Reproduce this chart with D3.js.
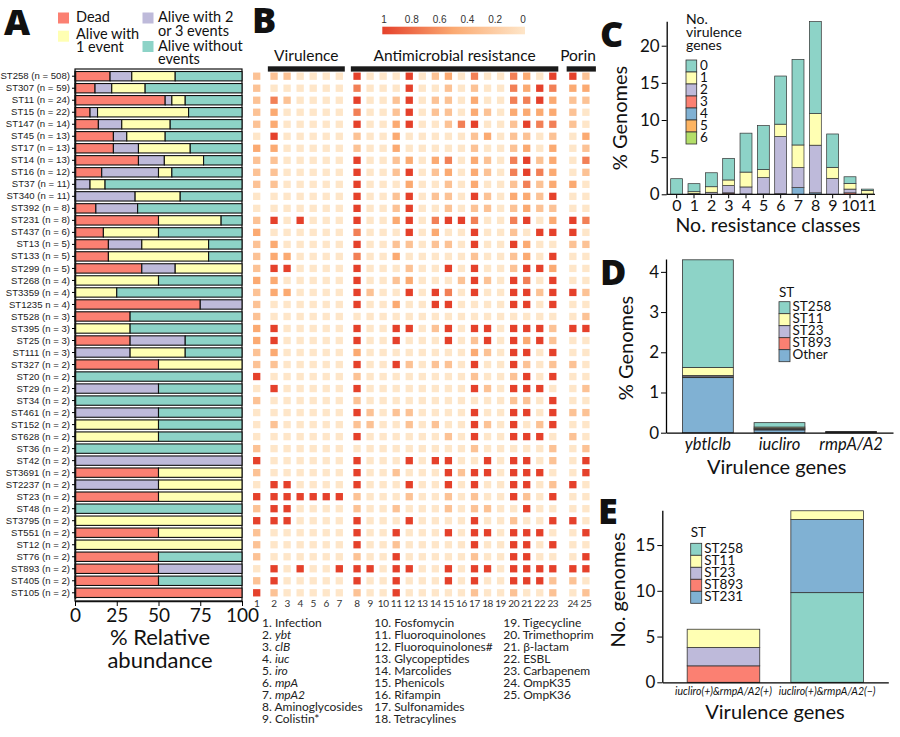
<!DOCTYPE html>
<html><head><meta charset="utf-8">
<script src="https://cdn.jsdelivr.net/npm/d3@7"></script>
<style>body{margin:0;background:#fff}svg{display:block}</style>
</head><body>
<svg id="c" width="900" height="737"></svg>
<script>
// ---------------- DATA ----------------
const stLabels = ["ST258 (n = 508)","ST307 (n = 59)","ST11 (n = 24)","ST15 (n = 22)","ST147 (n = 14)","ST45 (n = 13)","ST17 (n = 13)","ST14 (n = 13)","ST16 (n = 12)","ST37 (n = 11)","ST340 (n = 11)","ST392 (n = 8)","ST231 (n = 8)","ST437 (n = 6)","ST13 (n = 5)","ST133 (n = 5)","ST299 (n = 5)","ST268 (n = 4)","ST3359 (n = 4)","ST1235 n = 4)","ST528 (n = 3)","ST395 (n = 3)","ST25 (n = 3)","ST111 (n = 3)","ST327 (n = 2)","ST20 (n = 2)","ST29 (n = 2)","ST34 (n = 2)","ST461 (n = 2)","ST152 (n = 2)","ST628 (n = 2)","ST36 (n = 2)","ST42 (n = 2)","ST3691 (n = 2)","ST2237 (n = 2)","ST23 (n = 2)","ST48 (n = 2)","ST3795 (n = 2)","ST551 (n = 2)","ST12 (n = 2)","ST76 (n = 2)","ST893 (n = 2)","ST405 (n = 2)","ST105 (n = 2)"];
// % relative abundance per outcome
const dead  = [21,12,54,9,14,23,23,38,16,0,0,12.5,50,17,20,20,40,0,0,75,33,0,33,0,50,0,0,0,0,0,0,0,0,50,0,50,0,0,50,0,50,50,50,100];
const multi = [13,10,4,4.5,14,8,15,15.5,34,9,36,25,0,0,20,0,20,0,0,25,0,0,33,33,0,0,50,0,50,0,0,0,100,0,50,0,0,0,0,0,0,50,0,0];
const one   = [26,20,8,54.5,29,23,31,23.5,8,9,27,0,37.5,33,40,60,40,50,25,0,0,33,0,33,50,0,0,0,0,50,50,0,0,50,50,50,0,100,50,100,0,0,0,0];
const none  = [40,58,34,32,43,46,31,23,42,82,37,62.5,12.5,50,20,20,0,50,75,0,67,67,34,34,0,100,50,100,50,50,50,100,0,0,0,0,100,0,0,0,50,0,50,0];

// Panel B heat map (fraction of genomes), one row per ST, 25 columns
const heatColumns = ["1","2","3","4","5","6","7","8","9","10","11","12","13","14","15","16","17","18","19","20","21","22","23","24","25"];
const colGroup = [0,1,1,1,1,1,1,2,2,2,2,2,2,2,2,2,2,2,2,2,2,2,2,3,3];
const heat = [
[.3,.3,.3,0,0,0,0, 1,0,0,0,1,0,.3,.5,0,.7,0,0,.7,.5,0,1, 1,.3],
[.3,0,0,0,0,0,0, .7,0,0,0,1,0,0,.3,0,.3,0,0,.7,.5,1,.7, .5,.5],
[.3,.7,.3,0,0,0,0, 1,0,0,.3,1,0,.3,.3,0,.5,0,0,.7,.7,1,.5, .3,.3],
[.3,.5,0,0,0,0,0, .7,0,0,.3,1,0,.3,.3,0,.5,.3,0,.5,.5,.5,.5, .3,0],
[.3,.5,0,0,0,0,0, 1,0,0,.5,1,0,0,.3,.7,1,0,0,.3,1,.7,.7, .3,0],
[0,1,0,0,0,0,0, .3,0,0,.5,0,0,0,0,0,.3,.5,0,.3,.3,0,.3, 0,.5],
[.5,.5,0,0,0,0,0, .3,0,0,.5,0,0,0,0,0,.3,0,0,.3,.5,0,.5, 0,.3],
[.3,.3,0,0,0,0,0, 1,0,0,.3,.5,0,.5,.7,0,.5,.3,0,.7,1,.3,.5, 0,.7],
[.3,.3,0,0,0,0,0, 1,0,0,.3,1,0,.3,.5,0,.5,.3,0,.7,1,.7,.5, 0,.3],
[.3,.3,0,0,0,0,0, 1,0,0,0,.5,0,0,.3,0,.5,0,0,.3,.7,.3,.5, .5,0],
[0,0,0,0,0,0,0, 1,0,0,.3,1,0,.3,.3,0,1,.3,0,.5,.5,.3,1, 0,0],
[0,0,0,0,0,0,0, 1,0,0,.3,1,0,0,.3,0,.3,.3,0,.3,.5,.3,.3, 0,0],
[.3,1,0,1,0,0,0, 1,0,0,.5,1,0,.7,1,1,.7,0,0,.7,1,0,.5, 1,.7],
[.5,0,0,0,0,0,0, .7,0,0,0,1,0,.5,0,0,1,0,0,.3,0,1,1, 1,0],
[.3,.5,0,0,0,0,0, 1,0,0,.3,.3,0,.3,.3,0,1,0,0,1,.5,0,0, .3,.3],
[.3,.5,.5,0,0,0,0, .7,0,0,.5,0,0,0,0,0,.3,0,0,.3,.5,0,1, 0,0],
[.3,1,1,0,0,0,0, 1,0,0,0,.3,0,0,1,0,1,0,0,.3,1,1,.5, 0,0],
[.5,.5,0,0,0,0,0, 1,0,0,.3,.5,0,0,0,.3,1,.3,0,1,.7,0,1, 0,0],
[.3,.5,.5,0,0,0,0, 1,.3,0,0,1,0,1,.7,0,1,0,0,1,1,.3,1, 1,.3],
[.3,0,0,0,0,0,0, 1,0,0,.5,0,0,1,1,0,0,0,0,1,1,0,1, 0,0],
[.3,0,0,0,0,0,0, 0,0,0,0,0,0,0,0,0,0,0,0,0,0,0,0, 0,.3],
[.5,1,0,0,0,0,0, 1,0,0,1,1,0,.3,1,0,1,1,0,1,1,1,.3, 1,1],
[.5,1,0,0,0,0,0, 1,0,0,1,0,0,0,1,0,.3,1,0,1,.5,1,.3, 0,0],
[.3,.5,0,0,0,0,0, .5,0,0,0,0,0,0,0,0,.5,.3,0,1,1,0,1, 0,0],
[.3,.3,0,0,0,0,0, 1,0,0,1,.3,0,.3,.3,0,1,0,0,1,.3,0,.3, .3,0],
[1,0,0,0,0,0,0, .3,0,0,0,0,0,0,0,0,.3,0,0,.3,1,0,1, 0,0],
[0,1,0,0,0,0,0, 1,0,0,0,0,0,0,0,0,1,.3,0,1,1,1,0, 0,.3],
[.3,0,0,0,0,0,0, .3,0,0,0,0,0,0,0,0,0,0,0,.3,.3,0,1, 0,0],
[0,0,0,0,0,0,0, 1,.3,0,.3,.3,0,0,0,0,1,0,0,1,1,0,1, .3,.3],
[0,.3,0,0,0,0,0, .3,.3,0,0,.3,0,.3,0,0,1,.3,0,1,0,.3,1, 0,0],
[0,0,0,0,0,0,0, 1,0,0,0,0,0,0,.3,0,1,0,0,1,1,1,0, .3,0],
[.3,0,0,0,0,0,0, 0,0,0,0,0,0,0,0,0,.3,0,0,0,0,0,.3, 0,.3],
[1,0,0,0,0,0,0, 1,0,0,0,1,0,1,1,0,0,1,0,1,1,0,.3, 0,1],
[.3,0,0,0,0,0,0, 1,0,0,.3,0,0,0,1,.3,1,1,0,1,1,1,0, 0,1],
[0,1,1,0,0,0,0, 1,0,0,0,1,0,0,1,0,1,0,0,1,1,0,.3, 1,0],
[1,1,1,1,1,1,1, .3,0,0,0,.3,0,0,.3,0,.3,0,0,1,.3,0,1, 0,0],
[.3,1,1,0,0,0,0, .3,0,0,.3,0,0,0,.3,0,.3,.3,0,0,1,0,0, 0,0],
[1,1,1,0,0,0,0, 1,0,0,0,1,0,0,0,0,1,0,0,.3,0,0,1, 1,0],
[.3,0,0,0,0,0,0, 1,0,0,1,0,0,0,1,0,1,1,0,1,1,1,0, 0,1],
[.3,0,0,0,0,0,0, 1,0,0,.3,0,0,0,0,0,1,0,0,1,1,0,1, 0,0],
[.3,0,0,0,0,0,0, .3,0,0,1,0,0,0,0,0,.3,0,0,1,1,0,0, 0,1],
[0,1,0,1,0,0,1, 1,1,0,1,1,0,0,1,0,1,1,0,1,1,1,1, 1,1],
[.3,1,0,0,0,0,0, 1,0,0,1,0,0,0,1,0,1,0,0,1,1,1,.3, .3,0],
[1,.3,0,0,0,0,0, .3,0,0,1,0,0,0,0,0,.3,0,0,.3,0,0,.3, 0,.3]
];
const heatGroups = ["Virulence","Antimicrobial resistance","Porin"];
const legendTicks = [1,0.8,0.6,0.4,0.2,0];
const heatKey = ["Infection","ybt","clB","iuc","iro","mpA","mpA2","Aminoglycosides","Colistin*","Fosfomycin","Fluoroquinolones","Fluoroquinolones#","Glycopeptides","Marcolides","Phenicols","Rifampin","Sulfonamides","Tetracylines","Tigecycline","Trimethoprim","β-lactam","ESBL","Carbapenem","OmpK35","OmpK36"];
const heatKeyItalic = [false,true,true,true,true,true,true,false,false,false,false,false,false,false,false,false,false,false,false,false,false,false,false,false,false];

// Panel C: % genomes by number of resistance classes, stacked by no. virulence genes
const resClasses = ["0","1","2","3","4","5","6","7","8","9","10","11"];
const vir0 = [2.1,1.08,1.88,2.91,5.24,5.92,6.48,11.52,12.37,4.49,0.9,0.17];
const vir1 = [0,0.25,0.75,0.76,2.0,1.08,1.66,3.05,4.26,1.48,0.76,0.5];
const vir2 = [0,0.1,0.27,0.97,0.94,2.2,7.7,2.69,6.41,2.15,0.5,0];
const vir3 = [0,0,0,0.1,0,0,0,0,0,0,0.2,0.03];
const vir4 = [0,0,0,0.1,0.05,0.05,0.08,0.9,0.2,0,0,0];
const vir5 = [0,0,0,0,0,0,0,0,0,0,0,0];
const vir6 = [0,0,0,0,0,0,0,0,0,0,0,0];

// Panel D
const dGenes = ["ybtlclb","iucliro","rmpA/A2"];
const dOther = [1.37,0.07,0];
const dST893 = [0.02,0.02,0.015];
const dST23  = [0.03,0.02,0.015];
const dST11  = [0.2,0.03,0];
const dST258 = [2.68,0.11,0];

// Panel E
const eGenes = ["iucliro(+)&rmpA/A2(+)","iucliro(+)&rmpA/A2(\u2212)"];
const eST258 = [0,9.8];
const eST893 = [1.8,0];
const eST23  = [2,0];
const eST231 = [0,8];
const eST11  = [2,0.95];

// ---------------- DRAW ----------------
const svg = d3.select("#c");
const F = "Lato, 'Open Sans', sans-serif";
const AR = "'Liberation Sans', Arial, sans-serif";
const C = {teal:"#8dd3c7", yel:"#ffffb3", pur:"#bebada", red:"#fb8072", blue:"#80b1d3", ora:"#fdb462", grn:"#b3de69"};
const txt = (x,y,s,size,opt={}) => svg.append("text").attr("x",x).attr("y",y).attr("dominant-baseline","middle")
  .attr("font-family",opt.fam||F).attr("font-size",size).attr("font-weight",opt.bold?"bold":null)
  .attr("font-style",opt.it?"italic":null).attr("text-anchor",opt.anchor||"start").attr("fill","#111").text(s);

// panel letters
[["A",4,35],["B",252,33],["C",600,47],["D",600,285],["E",598,524]].forEach(([l,x,y])=>
  svg.append("text").attr("x",x).attr("y",y).attr("font-family","'Open Sans', Lato, sans-serif")
    .attr("font-weight",800).attr("font-size",36).attr("fill","#111").text(l));

// ===== Panel A =====
const yA = d3.scaleBand().domain(stLabels).range([70.2,598.8]).paddingInner(0.22).paddingOuter(0.11);
const xA = d3.scaleLinear().domain([0,100]).range([75,242]);
const rowsA = stLabels.map((s,i)=>({st:s,dead:dead[i],multi:multi[i],one:one[i],none:none[i]}));
const keysA = ["dead","multi","one","none"];
const colA = {dead:C.red,multi:C.pur,one:C.yel,none:C.teal};
const stA = d3.stack().keys(keysA)(rowsA);
svg.append("rect").attr("x",75).attr("y",69).attr("width",167).attr("height",532).attr("fill","none").attr("stroke","#111").attr("stroke-width",1.2);
stA.forEach(layer=>{
  svg.append("g").selectAll("rect").data(layer.filter(d=>d[1]-d[0]>0)).join("rect")
    .attr("x",d=>xA(d[0])).attr("width",d=>xA(d[1])-xA(d[0]))
    .attr("y",d=>yA(d.data.st)).attr("height",yA.bandwidth())
    .attr("fill",colA[layer.key]).attr("stroke","#111").attr("stroke-width",1.1);
});
const axAy = svg.append("g").attr("transform","translate(75,0)").call(d3.axisLeft(yA).tickSize(3).tickPadding(2).tickSizeOuter(0));
axAy.select(".domain").attr("stroke","#111").attr("stroke-width",1.5);
axAy.selectAll("text").attr("font-family",AR).attr("font-size",9.6).attr("fill","#222");
const axAx = svg.append("g").attr("transform","translate(0,601)").call(d3.axisBottom(xA).tickValues([0,25,50,75,100]).tickSize(5).tickPadding(3).tickSizeOuter(0));
axAx.select(".domain").attr("stroke","#111").attr("stroke-width",1.5);
axAx.selectAll("text").attr("font-family",F).attr("font-size",19).attr("fill","#111");
txt(160,639,"% Relative",22,{anchor:"middle"});
txt(160,662,"abundance",22,{anchor:"middle"});
// legend A
const legA = [[58,12.5,C.red,[["Dead",18.3]],76],[58,30.7,C.yel,[["Alive with",35],["1 event",48.3]],76],
  [142.5,12.5,C.pur,[["Alive with 2",18],["or 3 events",32.3]],158],[142.5,41,C.teal,[["Alive without",47.3],["events",60]],158]];
legA.forEach(([x,y,c,lines,tx])=>{
  svg.append("rect").attr("x",x).attr("y",y).attr("width",11).attr("height",11).attr("fill",c);
  lines.forEach(([s,ly])=>txt(tx,ly,s,14.5));
});

// ===== Panel B =====
const xCol = d3.scaleLinear().domain([0,24]).range([256.7,256.7+24*13.05]);
const groupShift = [0,4.3,9,16];
const xH = j => xCol(j)+groupShift[colGroup[j]];
const color = d3.scaleLinear().domain([0,0.5,1]).range(["#fee6c9","#fbaa72","#e5412b"]);
const cell = 7.3;
heat.forEach((row,i)=>{
  svg.append("g").selectAll("rect").data(row).join("rect")
    .attr("x",(v,j)=>xH(j)-cell/2).attr("y",yA(stLabels[i])+yA.bandwidth()/2-cell/2)
    .attr("width",cell).attr("height",cell).attr("fill",v=>color(v));
});
heatColumns.forEach((c,j)=>txt(xH(j),604.5,c,10,{anchor:"middle"}).attr("fill","#333").attr("letter-spacing",-0.4));
// group headers
const grpRange = [[1,6],[7,22],[23,24]];
grpRange.forEach(([a,b],g)=>{
  const x0 = xH(a)-6.2, x1 = xH(b)+(g===2?10:5.5);
  svg.append("rect").attr("x",x0).attr("y",66.3).attr("width",x1-x0).attr("height",5.3).attr("fill","#1a1a1a");
  txt(g===2?578:(x0+x1)/2,57.5,heatGroups[g],15.5,{anchor:"middle"});
});
// colour legend
const defs = svg.append("defs");
const gr = defs.append("linearGradient").attr("id","hg");
gr.append("stop").attr("offset","0%").attr("stop-color",color(1));
gr.append("stop").attr("offset","50%").attr("stop-color",color(0.5));
gr.append("stop").attr("offset","100%").attr("stop-color",color(0));
svg.append("rect").attr("x",382.3).attr("y",26.7).attr("width",142.7).attr("height",7.6).attr("fill","url(#hg)");
const xLeg = d3.scaleLinear().domain([1,0]).range([384,523]);
legendTicks.forEach(t=>txt(xLeg(t),20.5,String(t),10,{anchor:"middle",fam:AR}).attr("fill","#333"));
// key list
const keyCols = [[0,9,262],[9,18,374.3],[18,25,503.3]];
keyCols.forEach(([a,b,x])=>{
  for(let i=a;i<b;i++){
    const t = svg.append("text").attr("x",x).attr("y",624+(i-a)*12.05).attr("dominant-baseline","middle")
      .attr("font-family",F).attr("font-size",12).attr("fill","#222");
    t.append("tspan").text((i+1)+". ");
    t.append("tspan").attr("font-style",heatKeyItalic[i]?"italic":null).text(heatKey[i]);
  }
});

// ===== Panel C =====
const xC = d3.scaleBand().domain(resClasses).range([668,876]).paddingInner(0.31).paddingOuter(0.155);
const yC = d3.scaleLinear().domain([0,23.3]).range([194.3,21.2]);
const virSeries = {"0":vir0,"1":vir1,"2":vir2,"3":vir3,"4":vir4,"5":vir5,"6":vir6};
const virColor = {"0":C.teal,"1":C.yel,"2":C.pur,"3":C.red,"4":C.blue,"5":C.ora,"6":C.grn};
const rowsC = resClasses.map((r,i)=>{const o={cls:r};for(const k in virSeries)o[k]=virSeries[k][i];return o;});
const stC = d3.stack().keys(["6","5","4","3","2","1","0"])(rowsC);
stC.forEach(layer=>{
  svg.append("g").selectAll("rect").data(layer.filter(d=>d[1]-d[0]>0)).join("rect")
    .attr("x",d=>xC(d.data.cls)).attr("width",xC.bandwidth())
    .attr("y",d=>yC(d[1])).attr("height",d=>yC(d[0])-yC(d[1]))
    .attr("fill",virColor[layer.key]).attr("stroke","#333").attr("stroke-width",0.7);
});
const axCy = svg.append("g").attr("transform","translate(666.7,0)").call(d3.axisLeft(yC).tickValues([0,5,10,15,20]).tickSize(5).tickPadding(2).tickSizeOuter(0));
const axCx = svg.append("g").attr("transform","translate(0,194.3)").call(d3.axisBottom(xC).tickSize(4).tickPadding(2).tickSizeOuter(0));
axCx.select(".domain").remove();
svg.append("line").attr("x1",666.7).attr("x2",875).attr("y1",194.3).attr("y2",194.3).attr("stroke","#111").attr("stroke-width",1.3);
[axCy,axCx].forEach(a=>{a.selectAll("text").attr("font-family",F).attr("font-size",17).attr("fill","#111");a.select(".domain").attr("stroke-width",1.3);});
axCx.selectAll("text").attr("dy","0.68em").attr("font-size",16).attr("letter-spacing",-0.6);
txt(768,227,"No. resistance classes",19.5,{anchor:"middle"});
txt(0,0,"% Genomes",20,{anchor:"middle"}).attr("transform","translate(622,118) rotate(-90)");
txt(686,20,"No.",14);txt(686,33.3,"virulence",14);txt(686,46.7,"genes",14);
["0","1","2","3","4","5","6"].forEach((k,i)=>{
  svg.append("rect").attr("x",686).attr("y",60+i*12).attr("width",10.7).attr("height",12).attr("fill",virColor[k]).attr("stroke","#333").attr("stroke-width",0.8);
  txt(700,66.5+i*12,k,13.5);
});

// ===== Panel D =====
const xD = d3.scaleBand().domain(dGenes).range([666,893]).paddingInner(0.29).paddingOuter(0.23);
const yD = d3.scaleLinear().domain([0,4.32]).range([432.7,259]);
const dSeries = {Other:dOther,ST893:dST893,ST23:dST23,ST11:dST11,ST258:dST258};
const stColor = {ST258:C.teal,ST11:C.yel,ST23:C.pur,ST893:C.red,Other:C.blue,ST231:C.blue};
const rowsD = dGenes.map((g,i)=>{const o={g};for(const k in dSeries)o[k]=dSeries[k][i];return o;});
d3.stack().keys(["Other","ST893","ST23","ST11","ST258"])(rowsD).forEach(layer=>{
  svg.append("g").selectAll("rect").data(layer.filter(d=>d[1]-d[0]>0)).join("rect")
    .attr("x",d=>xD(d.data.g)).attr("width",xD.bandwidth())
    .attr("y",d=>yD(d[1])).attr("height",d=>yD(d[0])-yD(d[1]))
    .attr("fill",stColor[layer.key]).attr("stroke","#333").attr("stroke-width",0.8);
});
const axDy = svg.append("g").attr("transform","translate(666,0)").call(d3.axisLeft(yD).tickValues([0,1,2,3,4]).tickFormat(d3.format("d")).tickSize(5).tickPadding(2).tickSizeOuter(0));
const axDx = svg.append("g").attr("transform","translate(0,432.7)").call(d3.axisBottom(xD).tickSize(0).tickPadding(6).tickSizeOuter(0));
axDy.selectAll("text").attr("font-family",F).attr("font-size",17).attr("fill","#111");
axDx.selectAll("text").attr("font-family",F).attr("font-size",16.5).attr("font-style","italic").attr("fill","#111");
[axDy,axDx].forEach(a=>a.select(".domain").attr("stroke-width",1.3));
txt(776.7,468.5,"Virulence genes",20,{anchor:"middle"});
txt(0,0,"% Genomes",20,{anchor:"middle"}).attr("transform","translate(628,348) rotate(-90)");
txt(779,293.5,"ST",13.5);
["ST258","ST11","ST23","ST893","Other"].forEach((k,i)=>{
  svg.append("rect").attr("x",779).attr("y",301.7+i*12).attr("width",11).attr("height",12).attr("fill",stColor[k]).attr("stroke","#333").attr("stroke-width",0.8);
  txt(792.5,308+i*12,k,13.5);
});

// ===== Panel E =====
const xE = d3.scaleBand().domain(eGenes).range([662.3,888.3]).paddingInner(0.3).paddingOuter(0.24);
const yE = d3.scaleLinear().domain([0,18.8]).range([682.3,510.3]);
const eSeries = {ST258:eST258,ST893:eST893,ST23:eST23,ST231:eST231,ST11:eST11};
const rowsE = eGenes.map((g,i)=>{const o={g};for(const k in eSeries)o[k]=eSeries[k][i];return o;});
d3.stack().keys(["ST258","ST893","ST23","ST231","ST11"])(rowsE).forEach(layer=>{
  svg.append("g").selectAll("rect").data(layer.filter(d=>d[1]-d[0]>0)).join("rect")
    .attr("x",d=>xE(d.data.g)).attr("width",xE.bandwidth())
    .attr("y",d=>yE(d[1])).attr("height",d=>yE(d[0])-yE(d[1]))
    .attr("fill",stColor[layer.key]).attr("stroke","#333").attr("stroke-width",0.8);
});
const axEy = svg.append("g").attr("transform","translate(662.3,0)").call(d3.axisLeft(yE).tickValues([0,5,10,15]).tickSize(5).tickPadding(2).tickSizeOuter(0));
const axEx = svg.append("g").attr("transform","translate(0,682.3)").call(d3.axisBottom(xE).tickSize(0).tickPadding(5).tickSizeOuter(0));
axEy.selectAll("text").attr("font-family",F).attr("font-size",17).attr("fill","#111");
axEx.selectAll("text").attr("font-family",F).attr("font-size",10.5).attr("font-style","italic").attr("fill","#111");
[axEy,axEx].forEach(a=>a.select(".domain").attr("stroke-width",1.3));
txt(775,713.5,"Virulence genes",20,{anchor:"middle"});
txt(0,0,"No. genomes",20,{anchor:"middle"}).attr("transform","translate(620,590) rotate(-90)");
txt(690.7,533.5,"ST",13.5);
["ST258","ST11","ST23","ST893","ST231"].forEach((k,i)=>{
  svg.append("rect").attr("x",690.7).attr("y",543.3+i*12).attr("width",11).attr("height",12).attr("fill",stColor[k]).attr("stroke","#333").attr("stroke-width",0.8);
  txt(704.3,549.6+i*12,k,13.5);
});
</script>
</body></html>
